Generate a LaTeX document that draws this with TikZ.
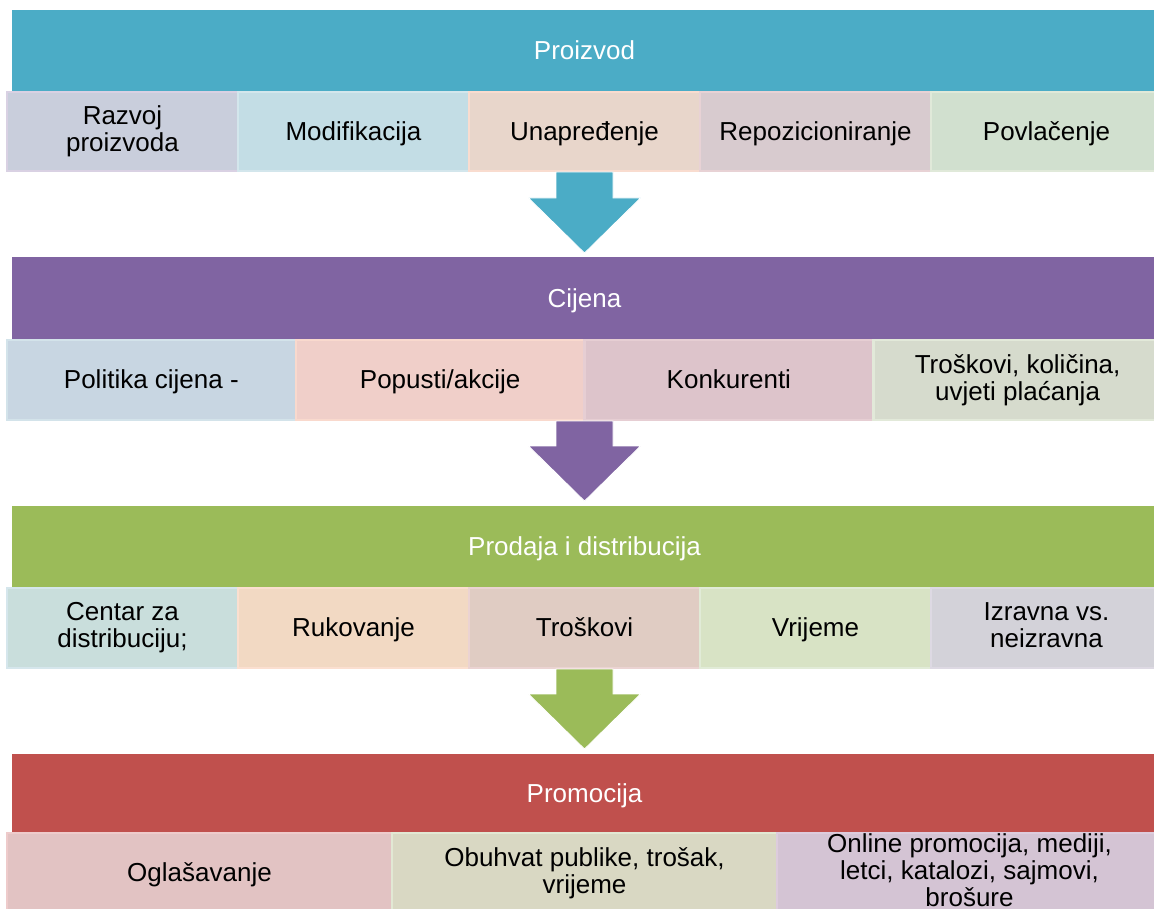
\documentclass[tikz,border=0pt]{standalone}
\usepackage{fontspec}
\setmainfont{Liberation Sans}
\usetikzlibrary{calc}
\definecolor{hA}{HTML}{4BACC6}
\definecolor{hB}{HTML}{8064A2}
\definecolor{hC}{HTML}{9BBB59}
\definecolor{hD}{HTML}{C0504D}
\newcommand\mystrut{\rule[-5.6pt]{0pt}{28.6pt}}
\begin{document}
\begin{tikzpicture}[x=1pt,y=-1pt,
  bar/.style={anchor=north west, inner sep=0pt, outer sep=0pt, minimum width=1145pt, text=white, font=\fontsize{26}{29}\selectfont, execute at begin node=\mystrut},
  cell/.style={anchor=north west, inner sep=0pt, outer sep=0pt, align=center, text=black, font=\fontsize{26}{27}\selectfont, line width=2.5pt, execute at begin node=\mystrut, execute at end node=\mystrut},
  c1/.style={cell, minimum width=231pt},
  c2/.style={cell, minimum width=288.75pt},
  c3/.style={cell, minimum width=385pt},
  arr/.style={draw=white, line width=0.8pt, line join=miter}
]
\useasboundingbox (0,0) rectangle (1154,909);
\clip (0,0) rectangle (1154,909);

% Section 1
\node[bar, fill=hA, minimum height=82pt] (bar1) at (12,10) {Proizvod};
\node[c1, minimum height=79pt, fill={rgb,255:red,201;green,206;blue,220}, draw={rgb,255:red,217;green,209;blue,227}] (r1a) at (7,92) {Razvoj\\proizvoda};
\node[c1, minimum height=79pt, fill={rgb,255:red,195;green,221;blue,229}, draw={rgb,255:red,211;green,230;blue,236}] (r1b) at (238,92) {Modifikacija};
\node[c1, minimum height=79pt, fill={rgb,255:red,232;green,214;blue,203}, draw={rgb,255:red,249;green,220;blue,207}] (r1c) at (469,92) {Unapređenje};
\node[c1, minimum height=79pt, fill={rgb,255:red,216;green,203;blue,207}, draw={rgb,255:red,232;green,210;blue,213}] (r1d) at (700,92) {Repozicioniranje};
\node[c1, minimum height=79pt, fill={rgb,255:red,209;green,224;blue,207}, draw={rgb,255:red,224;green,233;blue,217}] (r1e) at (931,92) {Povlačenje};

% Section 2
\node[bar, fill=hB, minimum height=83pt] (bar2) at (12,257) {Cijena};
\node[c2, minimum height=80pt, fill={rgb,255:red,200;green,214;blue,226}, draw={rgb,255:red,211;green,227;blue,234}] (r2a) at (7,340) {Politika cijena -};
\node[c2, minimum height=80pt, fill={rgb,255:red,240;green,207;blue,201}, draw={rgb,255:red,249;green,217;blue,205}] (r2b) at (295.75,340) {Popusti/akcije};
\node[c2, minimum height=80pt, fill={rgb,255:red,221;green,196;blue,203}, draw={rgb,255:red,230;green,206;blue,211}] (r2c) at (584.5,340) {Konkurenti};
\node[c2, minimum height=80pt, fill={rgb,255:red,214;green,219;blue,205}, draw={rgb,255:red,226;green,233;blue,217}] (r2d) at (873.25,340) {Troškovi, količina,\\uvjeti plaćanja};

% Section 3
\node[bar, fill=hC, minimum height=82pt] (bar3) at (12,506) {Prodaja i distribucija};
\node[c1, minimum height=80pt, fill={rgb,255:red,201;green,222;blue,220}, draw={rgb,255:red,213;green,230;blue,236}] (r3a) at (7,588) {Centar za\\distribuciju;};
\node[c1, minimum height=80pt, fill={rgb,255:red,242;green,217;blue,195}, draw={rgb,255:red,251;green,223;blue,208}] (r3b) at (238,588) {Rukovanje};
\node[c1, minimum height=80pt, fill={rgb,255:red,224;green,204;blue,195}, draw={rgb,255:red,235;green,211;blue,210}] (r3c) at (469,588) {Troškovi};
\node[c1, minimum height=80pt, fill={rgb,255:red,216;green,227;blue,197}, draw={rgb,255:red,225;green,235;blue,215}] (r3d) at (700,588) {Vrijeme};
\node[c1, minimum height=80pt, fill={rgb,255:red,211;green,210;blue,217}, draw={rgb,255:red,221;green,217;blue,227}] (r3e) at (931,588) {Izravna vs.\\neizravna};

% Section 4
\node[bar, fill=hD, minimum height=79pt] (bar4) at (12,754) {Promocija};
\node[c3, minimum height=80pt, fill={rgb,255:red,226;green,195;blue,195}, draw={rgb,255:red,238;green,203;blue,203}] (r4a) at (7,833) {Oglašavanje};
\node[c3, minimum height=80pt, fill={rgb,255:red,217;green,216;blue,195}, draw={rgb,255:red,226;green,232;blue,212}] (r4b) at (392,833) {Obuhvat publike, trošak,\\vrijeme};
\node[c3, minimum height=80pt, fill={rgb,255:red,212;green,196;blue,212}, draw={rgb,255:red,221;green,204;blue,221}] (r4c) at (777,833) {Online promocija, mediji,\\letci, katalozi, sajmovi,\\brošure};

% Arrows
\coordinate (s1) at (bar1.south |- r1a.south);
\coordinate (t1) at ($(bar2.north)+(0,-4)$);
\coordinate (s2) at (bar2.south |- r2a.south);
\coordinate (t2) at ($(bar3.north)+(0,-5)$);
\coordinate (s3) at (bar3.south |- r3a.south);
\coordinate (t3) at ($(bar4.north)+(0,-5)$);
\foreach \s/\t/\c in {s1/t1/hA, s2/t2/hB, s3/t3/hC}{
  \filldraw[arr, fill=\c] ($(\s)+(-28.5,1)$) -- ($(\s)+(28.5,1)$) -- ($(\t)+(28.5,-55)$) -- ($(\t)+(56,-55)$) -- (\t) -- ($(\t)+(-56,-55)$) -- ($(\t)+(-28.5,-55)$) -- cycle;
}
\end{tikzpicture}
\end{document}
